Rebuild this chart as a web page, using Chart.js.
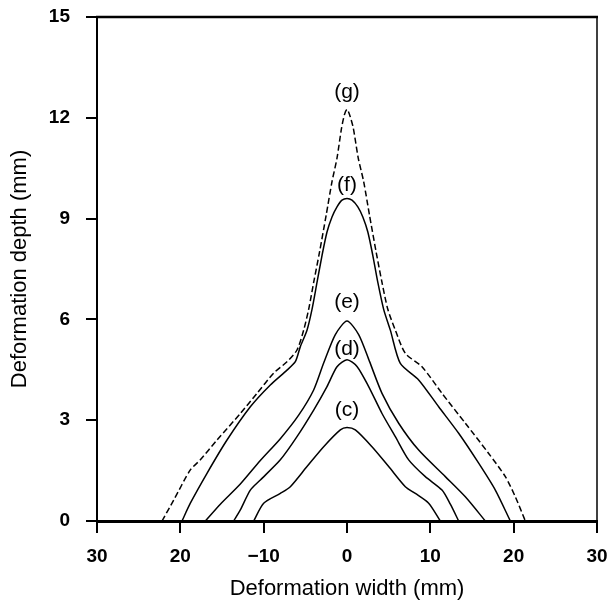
<!DOCTYPE html>
<html>
<head>
<meta charset="utf-8">
<script src="https://cdn.jsdelivr.net/npm/chart.js@4.4.1/dist/chart.umd.min.js"></script>
<style>
    body { margin: 0; background: #fff; }
    canvas { display: block; }
</style>
</head>
<body>
<canvas id="deformChart" width="611" height="604"></canvas>
<script>
// ===== DATA =====
const xTickValues = [-30, -20, -10, 0, 10, 20, 30];
const xTickLabels = ["30", "20", "\u221210", "0", "10", "20", "30"];

const seriesNames = ["(c)", "(d)", "(e)", "(f)", "(g)"];
const labelDepths = [3.3, 5.1, 6.5, 10.0, 12.75];

const cWidth = [-11.2, -10.0, -8.0, -6.8, -4.8, -2.8, -0.8, 0, 1.0, 3.0, 5.0, 7.0, 8.2, 9.8, 11.2];
const cDepth = [0, 0.53, 0.82, 1.02, 1.62, 2.21, 2.71, 2.78, 2.71, 2.21, 1.62, 1.02, 0.82, 0.53, 0];

const dWidth = [-13.6, -12.8, -11.6, -10.4, -8.0, -6.0, -4.0, -2.4, -1.2, 0, 1.2, 2.6, 4.2, 5.8, 7.4, 9.4, 11.4, 12.4, 13.4];
const dDepth = [0, 0.33, 0.92, 1.22, 1.82, 2.51, 3.3, 4.0, 4.59, 4.8, 4.6, 4.0, 3.2, 2.51, 1.82, 1.32, 0.92, 0.5, 0];

const eWidth = [-17.0, -15.2, -12.8, -10.4, -8.0, -5.8, -4.0, -2.8, -1.4, 0, 1.4, 2.7, 4.2, 6.2, 8.6, 11.8, 14.2, 16.6];
const eDepth = [0, 0.5, 1.1, 1.8, 2.45, 3.15, 3.9, 4.7, 5.55, 5.95, 5.55, 4.75, 3.8, 2.91, 2.11, 1.32, 0.72, 0];

const fWidth = [-19.8, -18.8, -16.8, -14.4, -11.6, -9.2, -7.2, -6.2, -5.6, -4.8, -4.2, -3.6, -3.0, -2.4, -1.8, -1.2, -0.6, 0,
                0.6, 1.3, 1.9, 2.5, 3.1, 3.7, 4.4, 5.2, 6.4, 8.6, 11.0, 13.4, 15.8, 17.8, 19.6];
const fDepth = [0, 0.53, 1.42, 2.41, 3.4, 4.05, 4.49, 4.74, 5.19, 5.68, 6.3, 7.1, 7.9, 8.6, 9.05, 9.35, 9.55, 9.6,
                9.55, 9.35, 9.05, 8.6, 7.9, 7.1, 6.3, 5.68, 4.69, 4.2, 3.4, 2.61, 1.72, 0.92, 0];

const gWidth = [-22.2, -20.8, -18.8, -17.6, -15.6, -12.8, -10.8, -8.8, -7.2, -6.0, -5.2, -4.6, -4.0, -3.3, -2.5, -1.8, -1.2, -0.65, -0.3, 0,
                0.3, 0.75, 1.35, 2.0, 2.7, 3.5, 4.2, 4.9, 5.8, 7.0, 9.0, 11.4, 14.2, 17.0, 19.0, 20.2, 21.4];
const gDepth = [0, 0.62, 1.52, 1.82, 2.41, 3.2, 3.8, 4.4, 4.74, 5.09, 5.68, 6.3, 7.1, 8.0, 9.1, 10.1, 10.8, 11.7, 12.1, 12.25,
                12.1, 11.7, 10.8, 10.1, 9.1, 8.0, 7.1, 6.3, 5.68, 4.99, 4.59, 3.8, 2.91, 2.01, 1.32, 0.72, 0];

function toPoints(xs, ys) {
    return xs.map((x, i) => ({ x: x, y: ys[i] }));
}

const curves = [
    { w: cWidth, d: cDepth, dash: [] },
    { w: dWidth, d: dDepth, dash: [] },
    { w: eWidth, d: eDepth, dash: [] },
    { w: fWidth, d: fDepth, dash: [] },
    { w: gWidth, d: gDepth, dash: [6, 3] }
];

const tickFont = { family: "'Liberation Sans', Arial, sans-serif", size: 19, weight: "bold" };
const titleFont = { family: "'Liberation Sans', Arial, sans-serif", size: 22 };

// ===== PLUGINS =====
const framePlugin = {
    id: "frame",
    afterDraw(chart) {
        const { ctx, chartArea: a } = chart;
        ctx.save();
        ctx.strokeStyle = "#000";
        ctx.lineWidth = 2.5;
        ctx.beginPath();
        ctx.moveTo(a.left - 1, a.top);
        ctx.lineTo(a.right + 1, a.top);
        ctx.stroke();
        ctx.lineWidth = 1.5;
        ctx.beginPath();
        ctx.moveTo(a.right, a.top);
        ctx.lineTo(a.right, a.bottom);
        ctx.stroke();
        ctx.restore();
    }
};

const curveLabels = {
    id: "curveLabels",
    afterDatasetsDraw(chart) {
        const { ctx, scales } = chart;
        ctx.save();
        ctx.fillStyle = "#000";
        ctx.font = "21px 'Liberation Sans', Arial, sans-serif";
        ctx.textAlign = "center";
        ctx.textBaseline = "middle";
        seriesNames.forEach((name, i) => {
            ctx.fillText(name, scales.x.getPixelForValue(0), scales.y.getPixelForValue(labelDepths[i]));
        });
        ctx.restore();
    }
};

// ===== CHART =====
const ctx = document.getElementById("deformChart").getContext("2d");

new Chart(ctx, {
    type: "line",
    data: {
        datasets: curves.map((c, i) => ({
            label: seriesNames[i],
            data: toPoints(c.w, c.d),
            borderColor: "#000",
            borderWidth: 1.5,
            borderDash: c.dash,
            pointRadius: 0,
            pointHoverRadius: 0,
            fill: false,
            tension: 0.25
        }))
    },
    options: {
        responsive: false,
        animation: false,
        devicePixelRatio: 1,
        layout: { autoPadding: false, padding: { left: 0, right: 14, top: 17, bottom: 0 } },
        plugins: {
            legend: { display: false },
            tooltip: { enabled: false }
        },
        scales: {
            x: {
                type: "linear",
                min: -30,
                max: 30,
                afterFit: axis => {
                    axis.height = 83;
                    axis.paddingLeft = 0;
                    axis.paddingRight = 0;
                },
                ticks: {
                    stepSize: 10,
                    color: "#000",
                    font: tickFont,
                    padding: 12,
                    maxRotation: 0,
                    callback: v => xTickLabels[xTickValues.indexOf(v)]
                },
                grid: { drawOnChartArea: false, tickLength: 12, lineWidth: 2, color: "#000" },
                border: { color: "#000", width: 3 },
                title: {
                    display: true,
                    text: "Deformation width (mm)",
                    color: "#000",
                    font: titleFont,
                    padding: { top: 0, bottom: 2 }
                }
            },
            y: {
                min: 0,
                max: 15,
                afterFit: axis => {
                    axis.width = 97;
                    axis.paddingTop = 0;
                    axis.paddingBottom = 0;
                },
                ticks: {
                    stepSize: 3,
                    color: "#000",
                    font: tickFont,
                    padding: 16
                },
                grid: { drawOnChartArea: false, tickLength: 11, lineWidth: 2, color: "#000" },
                border: { color: "#000", width: 2 },
                title: {
                    display: true,
                    text: "Deformation depth (mm)",
                    color: "#000",
                    font: titleFont,
                    padding: { top: 7, bottom: 0 }
                }
            }
        }
    },
    plugins: [framePlugin, curveLabels]
});
</script>
</body>
</html>
